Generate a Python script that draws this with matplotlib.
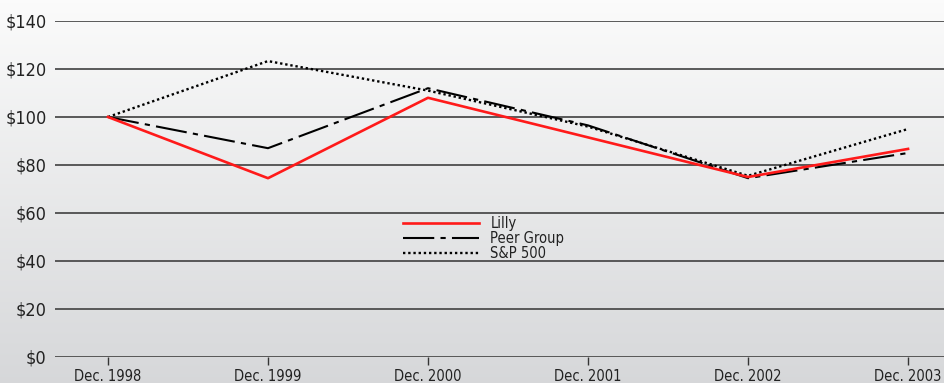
import matplotlib
matplotlib.use('Agg')
import matplotlib.pyplot as plt
import numpy as np

years = ['Dec. 1998', 'Dec. 1999', 'Dec. 2000', 'Dec. 2001', 'Dec. 2002', 'Dec. 2003']
lilly = [100, 74.5, 108, 91.5, 75, 86.7]
peer_group = [100, 87, 112, 96.5, 74.5, 85]
sp500 = [100, 123.3, 111, 96, 75.5, 95]
y_ticks = [0, 20, 40, 60, 80, 100, 120, 140]

plt.rcParams['font.family'] = ['DejaVu Sans']
plt.rcParams['font.stretch'] = 'condensed'

fig = plt.figure(figsize=(9.45, 3.83), dpi=100)

# gradient background over the whole figure
bg = fig.add_axes([0, 0, 1, 1], zorder=-10)
grad = np.linspace(0, 1, 256).reshape(-1, 1)
top = np.array([0.985, 0.985, 0.985])
bottom = np.array([0.84, 0.845, 0.853])
img = top + (bottom - top) * grad[:, :, None]
bg.imshow(img, aspect='auto', extent=[0, 1, 0, 1], origin='upper')
bg.axis('off')

ax = fig.add_axes([0.0582, 0.0679, 0.9418, 0.8773])
ax.patch.set_alpha(0)
x = np.arange(len(years))

ax.plot(x, lilly, color='#ff1a1a', linewidth=1.9, label='Lilly', zorder=4)
ax.plot(x, peer_group, color='black', linewidth=1.5, dashes=(15, 3, 2.5, 3), label='Peer Group', zorder=3)
ax.plot(x, sp500, color='black', linewidth=1.7, dashes=(1, 1.2), label='S&P 500', zorder=3)

ax.set_ylim(0, 140)
ax.set_xlim(-0.331, 5.231)
ax.set_yticks(y_ticks)
ax.set_yticklabels([f'${v}' for v in y_ticks], fontsize=13, color='#222222')
ax.set_xticks(x)
ax.set_xticklabels(years, fontsize=10.5, color='#222222')
ax.tick_params(axis='y', length=0, pad=6)
ax.tick_params(axis='x', length=5.5, width=1, color='#333333', pad=3)
ax.yaxis.grid(True, color='#4d4d4d', linewidth=1.3)
ax.set_axisbelow(True)
for s in ax.spines.values():
    s.set_visible(False)

leg = ax.legend(loc='upper left', bbox_to_anchor=(403 / 945, 1 - 216 / 383),
                bbox_transform=fig.transFigure, frameon=False, fontsize=10.5,
                handlelength=5.2, handletextpad=0.8, labelspacing=0.0,
                borderpad=0, borderaxespad=0)
for t in leg.get_texts():
    t.set_color('#222222')

fig.savefig('out.png', dpi=100)
